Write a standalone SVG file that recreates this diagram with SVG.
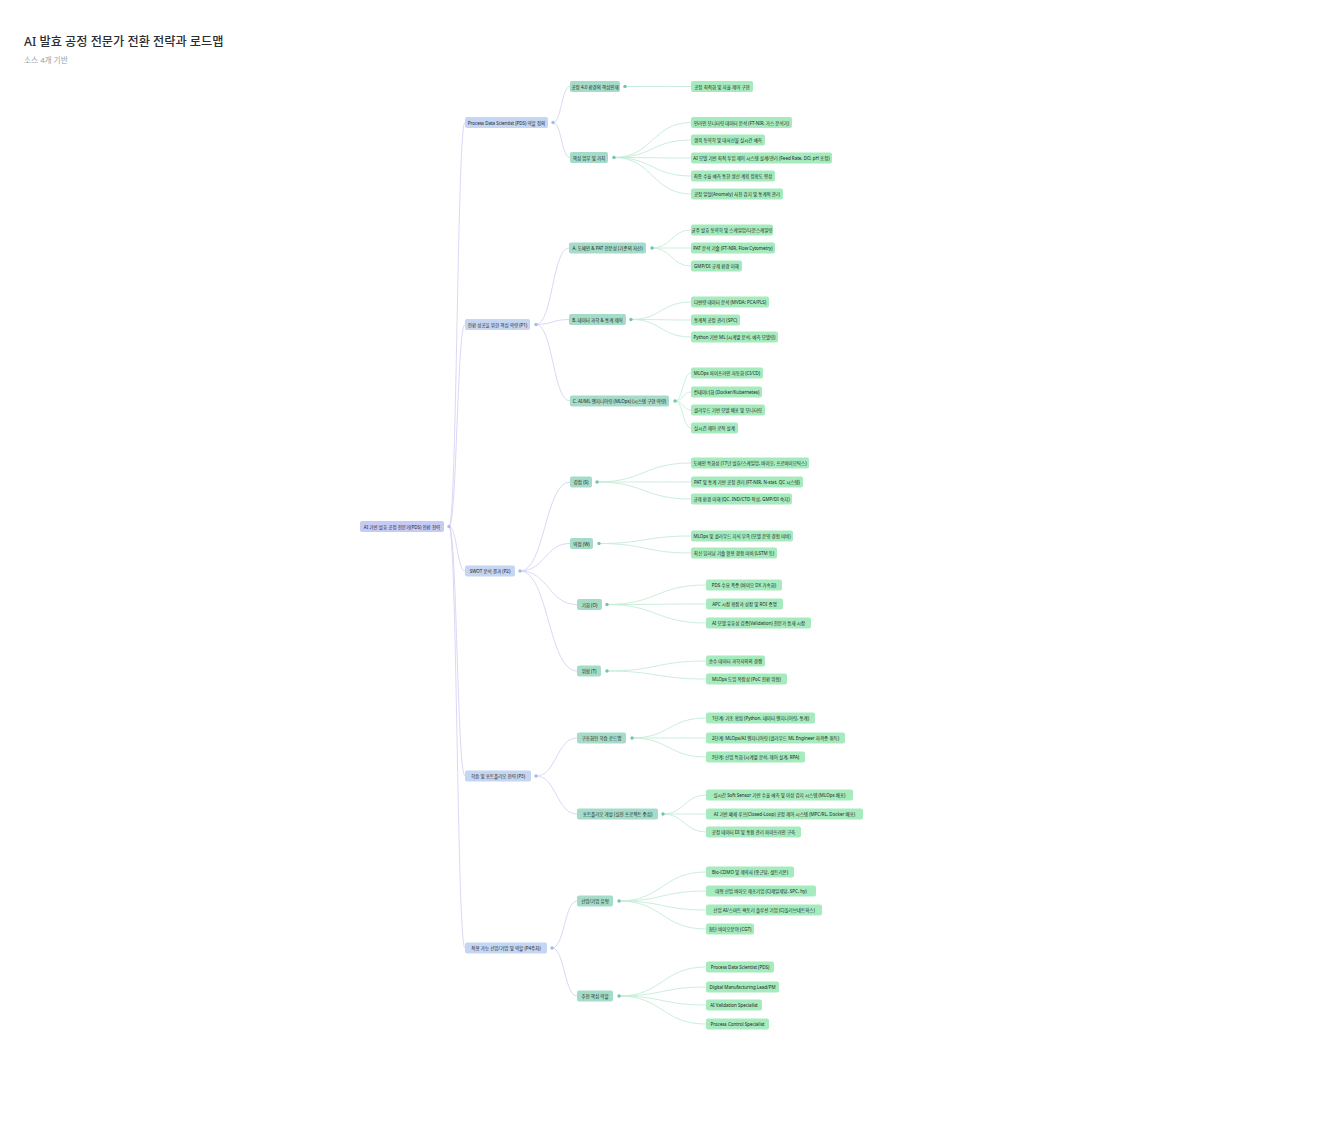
<svg xmlns="http://www.w3.org/2000/svg" width="1318" height="1125" viewBox="0 0 1318 1125">
<style>
text{font-family:"Noto Sans","Noto Sans CJK KR",sans-serif;fill:#1f2328}
.t{font-size:4.5px;text-anchor:middle;dominant-baseline:central}
.root rect{fill:#c6cbf6}
.l1 rect{fill:#c4d6f1}
.l2 rect{fill:#a5dcc7}
.lf rect{fill:#a5ebbd}
.root circle{fill:#b3b8ec}
.l1 circle{fill:#a5bde3}
.l2 circle{fill:#72c6a6}
.ep{fill:none;stroke:#d6d4f4;stroke-width:0.9}
.eg{fill:none;stroke:#c4ecd7;stroke-width:0.9}
</style>
<rect width="1318" height="1125" fill="#ffffff"/>
<text x="24" y="46" style="font-size:12.2px;font-weight:500;fill:#2a2d31">AI 발효 공정 전문가 전환 전략과 로드맵</text>
<text x="24" y="63" style="font-size:7.7px;fill:#9aa0a6">소스 4개 기반</text>

<g id="connectors">
<path class="ep" d="M449,526.5 C457,526.5 457,122.5 465,122.5"/>
<path class="ep" d="M449,526.5 C457,526.5 457,324.5 465,324.5"/>
<path class="ep" d="M449,526.5 C457,526.5 457,571 465,571"/>
<path class="ep" d="M449,526.5 C457,526.5 457,776 465,776"/>
<path class="ep" d="M449,526.5 C457,526.5 457,948 465,948"/>
<path class="ep" d="M553,122.5 C561.5,122.5 561.5,86.5 570,86.5"/>
<path class="ep" d="M553,122.5 C561.5,122.5 561.5,157.5 570,157.5"/>
<path class="ep" d="M536,324.5 C552.5,324.5 552.5,248 569,248"/>
<path class="ep" d="M536,324.5 C552.5,324.5 552.5,319.5 569,319.5"/>
<path class="ep" d="M536,324.5 C553,324.5 553,401 570,401"/>
<path class="ep" d="M520,571 C545,571 545,482 570,482"/>
<path class="ep" d="M520,571 C545,571 545,543.5 570,543.5"/>
<path class="ep" d="M520,571 C548.5,571 548.5,604.5 577,604.5"/>
<path class="ep" d="M520,571 C548.5,571 548.5,671 577,671"/>
<path class="ep" d="M536,776 C556.5,776 556.5,738 577,738"/>
<path class="ep" d="M536,776 C556.5,776 556.5,814 577,814"/>
<path class="ep" d="M552,948 C564.5,948 564.5,901 577,901"/>
<path class="ep" d="M552,948 C564.5,948 564.5,996 577,996"/>
<path class="eg" d="M625,86.5 C658,86.5 658,86.5 691,86.5"/>
<path class="eg" d="M614,157.5 C652.5,157.5 652.5,122.5 691,122.5"/>
<path class="eg" d="M614,157.5 C652.5,157.5 652.5,140 691,140"/>
<path class="eg" d="M614,157.5 C652.5,157.5 652.5,158 691,158"/>
<path class="eg" d="M614,157.5 C652.5,157.5 652.5,176 691,176"/>
<path class="eg" d="M614,157.5 C652.5,157.5 652.5,194 691,194"/>
<path class="eg" d="M652,248 C671.5,248 671.5,230 691,230"/>
<path class="eg" d="M652,248 C671.5,248 671.5,248 691,248"/>
<path class="eg" d="M652,248 C671.5,248 671.5,266 691,266"/>
<path class="eg" d="M631,319.5 C661,319.5 661,302 691,302"/>
<path class="eg" d="M631,319.5 C661,319.5 661,320 691,320"/>
<path class="eg" d="M631,319.5 C661,319.5 661,337 691,337"/>
<path class="eg" d="M675,401 C683,401 683,373 691,373"/>
<path class="eg" d="M675,401 C683,401 683,392 691,392"/>
<path class="eg" d="M675,401 C683,401 683,410 691,410"/>
<path class="eg" d="M675,401 C683,401 683,428 691,428"/>
<path class="eg" d="M597,482 C644,482 644,463 691,463"/>
<path class="eg" d="M597,482 C644,482 644,482 691,482"/>
<path class="eg" d="M597,482 C644,482 644,499 691,499"/>
<path class="eg" d="M599,543.5 C645,543.5 645,536 691,536"/>
<path class="eg" d="M599,543.5 C645,543.5 645,553 691,553"/>
<path class="eg" d="M607,604.5 C656.5,604.5 656.5,585 706,585"/>
<path class="eg" d="M607,604.5 C656.5,604.5 656.5,604 706,604"/>
<path class="eg" d="M607,604.5 C656.5,604.5 656.5,623 706,623"/>
<path class="eg" d="M607,671 C656.5,671 656.5,661 706,661"/>
<path class="eg" d="M607,671 C656.5,671 656.5,679 706,679"/>
<path class="eg" d="M632,738 C669,738 669,718 706,718"/>
<path class="eg" d="M632,738 C669,738 669,738 706,738"/>
<path class="eg" d="M632,738 C669,738 669,757 706,757"/>
<path class="eg" d="M663,814 C684.5,814 684.5,795 706,795"/>
<path class="eg" d="M663,814 C684.5,814 684.5,814 706,814"/>
<path class="eg" d="M663,814 C684.5,814 684.5,832 706,832"/>
<path class="eg" d="M619,901 C662.5,901 662.5,872 706,872"/>
<path class="eg" d="M619,901 C662.5,901 662.5,891 706,891"/>
<path class="eg" d="M619,901 C662.5,901 662.5,910 706,910"/>
<path class="eg" d="M619,901 C662.5,901 662.5,929 706,929"/>
<path class="eg" d="M619,996 C662.5,996 662.5,967 706,967"/>
<path class="eg" d="M619,996 C662.5,996 662.5,987 706,987"/>
<path class="eg" d="M619,996 C662.5,996 662.5,1005 706,1005"/>
<path class="eg" d="M619,996 C662.5,996 662.5,1024 706,1024"/>
</g>

<g id="root" class="root"><rect x="360" y="521" width="84" height="11" rx="2"/><circle cx="449" cy="526.5" r="1.7"/><text class="t" x="402" y="526.5">AI 기반 발효 공정 전문가(PDS) 전환 전략</text></g>

<g id="n-pds" class="l1"><rect x="465" y="117" width="83" height="11" rx="2"/><circle cx="553" cy="122.5" r="1.7"/><text class="t" x="506.5" y="122.5">Process Data Scientist (PDS) 역할 정의</text></g>
<g id="n-comp" class="l1"><rect x="465" y="319" width="65" height="11" rx="2"/><circle cx="536" cy="324.5" r="1.7"/><text class="t" x="497.5" y="324.5">전환 성공을 위한 핵심 역량 (P1)</text></g>
<g id="n-swot" class="l1"><rect x="465" y="565.5" width="50" height="11" rx="2"/><circle cx="520" cy="571" r="1.7"/><text class="t" x="490" y="571">SWOT 분석 결과 (P2)</text></g>
<g id="n-learn" class="l1"><rect x="465" y="770.5" width="66" height="11" rx="2"/><circle cx="536" cy="776" r="1.7"/><text class="t" x="498" y="776">학습 및 포트폴리오 전략 (P3)</text></g>
<g id="n-ind" class="l1"><rect x="465" y="942.5" width="82" height="11" rx="2"/><circle cx="552" cy="948" r="1.7"/><text class="t" x="506" y="948">적용 가능 산업/기업 및 역할 (P4주차)</text></g>

<g id="n-pds-a" class="l2"><rect x="570" y="81" width="50" height="11" rx="2"/><circle cx="625" cy="86.5" r="1.7"/><text class="t" x="595" y="86.5">공정 4.0 환경의 핵심인재</text></g>
<g id="n-pds-b" class="l2"><rect x="570" y="152" width="38" height="11" rx="2"/><circle cx="614" cy="157.5" r="1.7"/><text class="t" x="589" y="157.5">핵심 업무 및 가치</text></g>
<g id="n-comp-a" class="l2"><rect x="569" y="242.5" width="77" height="11" rx="2"/><circle cx="652" cy="248" r="1.7"/><text class="t" x="607.5" y="248">A. 도메인 &amp; PAT 전문성 (기존의 자산)</text></g>
<g id="n-comp-b" class="l2"><rect x="569" y="314" width="57" height="11" rx="2"/><circle cx="631" cy="319.5" r="1.7"/><text class="t" x="597.5" y="319.5">B. 데이터 과학 &amp; 통계 제어</text></g>
<g id="n-comp-c" class="l2"><rect x="570" y="395.5" width="99" height="11" rx="2"/><circle cx="675" cy="401" r="1.7"/><text class="t" x="619.5" y="401">C. AI/ML 엔지니어링 (MLOps) (시스템 구현 역량)</text></g>
<g id="n-s" class="l2"><rect x="570" y="476.5" width="22" height="11" rx="2"/><circle cx="597" cy="482" r="1.7"/><text class="t" x="581" y="482">강점 (S)</text></g>
<g id="n-w" class="l2"><rect x="570" y="538" width="23" height="11" rx="2"/><circle cx="599" cy="543.5" r="1.7"/><text class="t" x="581.5" y="543.5">약점 (W)</text></g>
<g id="n-o" class="l2"><rect x="577" y="599" width="25" height="11" rx="2"/><circle cx="607" cy="604.5" r="1.7"/><text class="t" x="589.5" y="604.5">기회 (O)</text></g>
<g id="n-t" class="l2"><rect x="577" y="665.5" width="24" height="11" rx="2"/><circle cx="607" cy="671" r="1.7"/><text class="t" x="589" y="671">위협 (T)</text></g>
<g id="n-road" class="l2"><rect x="577" y="732.5" width="49" height="11" rx="2"/><circle cx="632" cy="738" r="1.7"/><text class="t" x="601.5" y="738">구조화된 학습 로드맵</text></g>
<g id="n-port" class="l2"><rect x="577" y="808.5" width="81" height="11" rx="2"/><circle cx="663" cy="814" r="1.7"/><text class="t" x="617.5" y="814">포트폴리오 개발 (실전 프로젝트 중심)</text></g>
<g id="n-type" class="l2"><rect x="577" y="895.5" width="36" height="11" rx="2"/><circle cx="619" cy="901" r="1.7"/><text class="t" x="595" y="901">산업/기업 유형</text></g>
<g id="n-role" class="l2"><rect x="577" y="990.5" width="36" height="11" rx="2"/><circle cx="619" cy="996" r="1.7"/><text class="t" x="595" y="996">추천 핵심 역할</text></g>

<g id="lf1" class="lf"><rect x="691" y="81" width="62" height="11" rx="2"/><text class="t" x="722" y="86.5">공정 최적화 및 자율 제어 구현</text></g>
<g id="lf2" class="lf"><rect x="691" y="117" width="101" height="11" rx="2"/><text class="t" x="741.5" y="122.5">인라인 모니터링 데이터 분석 (FT-NIR, 가스 분석기)</text></g>
<g id="lf3" class="lf"><rect x="691" y="134.5" width="74" height="11" rx="2"/><text class="t" x="728" y="140">생육 동역학 및 대사산물 실시간 예측</text></g>
<g id="lf4" class="lf"><rect x="691" y="152.5" width="141" height="11" rx="2"/><text class="t" x="761.5" y="158">AI 모델 기반 최적 투입 제어 시스템 설계/관리 (Feed Rate, DO, pH 조정)</text></g>
<g id="lf5" class="lf"><rect x="691" y="170.5" width="84" height="11" rx="2"/><text class="t" x="733" y="176">최종 수율 예측 통한 생산 계획 정확도 향상</text></g>
<g id="lf6" class="lf"><rect x="691" y="188.5" width="92" height="11" rx="2"/><text class="t" x="737" y="194">공정 일탈(Anomaly) 사전 감지 및 통계적 관리</text></g>
<g id="lf7" class="lf"><rect x="691" y="224.5" width="82" height="11" rx="2"/><text class="t" x="732" y="230">균주 발효 동역학 및 스케일업/다운스케일링</text></g>
<g id="lf8" class="lf"><rect x="691" y="242.5" width="84" height="11" rx="2"/><text class="t" x="733" y="248">PAT 분석 기술 (FT-NIR, Flow Cytometry)</text></g>
<g id="lf9" class="lf"><rect x="691" y="260.5" width="51" height="11" rx="2"/><text class="t" x="716.5" y="266">GMP/DI 규제 환경 이해</text></g>
<g id="lf10" class="lf"><rect x="691" y="296.5" width="78" height="11" rx="2"/><text class="t" x="730" y="302">다변량 데이터 분석 (MVDA: PCA/PLS)</text></g>
<g id="lf11" class="lf"><rect x="691" y="314.5" width="49" height="11" rx="2"/><text class="t" x="715.5" y="320">통계적 공정 관리 (SPC)</text></g>
<g id="lf12" class="lf"><rect x="691" y="331.5" width="87" height="11" rx="2"/><text class="t" x="734.5" y="337">Python 기반 ML (시계열 분석, 예측 모델링)</text></g>
<g id="lf13" class="lf"><rect x="691" y="367.5" width="72" height="11" rx="2"/><text class="t" x="727" y="373">MLOps 파이프라인 자동화 (CI/CD)</text></g>
<g id="lf14" class="lf"><rect x="691" y="386.5" width="71" height="11" rx="2"/><text class="t" x="726.5" y="392">컨테이너화 (Docker/Kubernetes)</text></g>
<g id="lf15" class="lf"><rect x="691" y="404.5" width="74" height="11" rx="2"/><text class="t" x="728" y="410">클라우드 기반 모델 배포 및 모니터링</text></g>
<g id="lf16" class="lf"><rect x="691" y="422.5" width="47" height="11" rx="2"/><text class="t" x="714.5" y="428">실시간 제어 로직 설계</text></g>
<g id="lf17" class="lf"><rect x="691" y="457.5" width="118" height="11" rx="2"/><text class="t" x="750" y="463">도메인 특화성 (17년 발효/스케일업, 바이오, 프로바이오틱스)</text></g>
<g id="lf18" class="lf"><rect x="691" y="476.5" width="112" height="11" rx="2"/><text class="t" x="747" y="482">PAT 및 통계 기반 공정 관리 (FT-NIR, N-stat, QC 시스템)</text></g>
<g id="lf19" class="lf"><rect x="691" y="493.5" width="101" height="11" rx="2"/><text class="t" x="741.5" y="499">규제 환경 이해 (QC, IND/CTD 작성, GMP/DI 숙지)</text></g>
<g id="lf20" class="lf"><rect x="691" y="530.5" width="102" height="11" rx="2"/><text class="t" x="742" y="536">MLOps 및 클라우드 지식 부족 (모델 운영 경험 미비)</text></g>
<g id="lf21" class="lf"><rect x="691" y="547.5" width="86" height="11" rx="2"/><text class="t" x="734" y="553">최신 딥러닝 기술 활용 경험 미비 (LSTM 등)</text></g>
<g id="lf22" class="lf"><rect x="706" y="579.5" width="76" height="11" rx="2"/><text class="t" x="744" y="585">PDS 수요 폭증 (바이오 DX 가속화)</text></g>
<g id="lf23" class="lf"><rect x="706" y="598.5" width="77" height="11" rx="2"/><text class="t" x="744.5" y="604">APC 시장 확장과 성장 및 ROI 증명</text></g>
<g id="lf24" class="lf"><rect x="706" y="617.5" width="105" height="11" rx="2"/><text class="t" x="758.5" y="623">AI 모델 유효성 검증(Validation) 전문가 틈새 시장</text></g>
<g id="lf25" class="lf"><rect x="706" y="655.5" width="59" height="11" rx="2"/><text class="t" x="735.5" y="661">순수 데이터 과학자와의 경쟁</text></g>
<g id="lf26" class="lf"><rect x="706" y="673.5" width="81" height="11" rx="2"/><text class="t" x="746.5" y="679">MLOps 도입 복잡성 (PoC 전환 위험)</text></g>
<g id="lf27" class="lf"><rect x="706" y="712.5" width="109" height="11" rx="2"/><text class="t" x="760.5" y="718">1단계: 기초 확립 (Python, 데이터 엔지니어링, 통계)</text></g>
<g id="lf28" class="lf"><rect x="706" y="732.5" width="139" height="11" rx="2"/><text class="t" x="775.5" y="738">2단계: MLOps/AI 엔지니어링 (클라우드 ML Engineer 자격증 취득)</text></g>
<g id="lf29" class="lf"><rect x="706" y="751.5" width="99" height="11" rx="2"/><text class="t" x="755.5" y="757">3단계: 산업 특화 (시계열 분석, 제어 설계, RPA)</text></g>
<g id="lf30" class="lf"><rect x="706" y="789.5" width="147" height="11" rx="2"/><text class="t" x="779.5" y="795">실시간 Soft Sensor 기반 수율 예측 및 이상 감지 시스템 (MLOps 배포)</text></g>
<g id="lf31" class="lf"><rect x="706" y="808.5" width="157" height="11" rx="2"/><text class="t" x="784.5" y="814">AI 기반 폐쇄 루프(Closed-Loop) 공정 제어 시스템 (MPC/RL, Docker 배포)</text></g>
<g id="lf32" class="lf"><rect x="706" y="826.5" width="95" height="11" rx="2"/><text class="t" x="753.5" y="832">공정 데이터 DI 및 통합 관리 파이프라인 구축</text></g>
<g id="lf33" class="lf"><rect x="706" y="866.5" width="88" height="11" rx="2"/><text class="t" x="750" y="872">Bio-CDMO 및 제약사 (종근당, 셀트리온)</text></g>
<g id="lf34" class="lf"><rect x="706" y="885.5" width="110" height="11" rx="2"/><text class="t" x="761" y="891">대형 산업 바이오 제조기업 (CJ제일제당, SPC, hy)</text></g>
<g id="lf35" class="lf"><rect x="706" y="904.5" width="116" height="11" rx="2"/><text class="t" x="764" y="910">산업 AI/스마트 팩토리 솔루션 기업 (CJ올리브네트웍스)</text></g>
<g id="lf36" class="lf"><rect x="706" y="923.5" width="48" height="11" rx="2"/><text class="t" x="730" y="929">첨단 바이오분야 (CGT)</text></g>
<g id="lf37" class="lf"><rect x="706" y="961.5" width="68" height="11" rx="2"/><text class="t" x="740" y="967">Process Data Scientist (PDS)</text></g>
<g id="lf38" class="lf"><rect x="706" y="981.5" width="73" height="11" rx="2"/><text class="t" x="742.5" y="987">Digital Manufacturing Lead/PM</text></g>
<g id="lf39" class="lf"><rect x="706" y="999.5" width="56" height="11" rx="2"/><text class="t" x="734" y="1005">AI Validation Specialist</text></g>
<g id="lf40" class="lf"><rect x="706" y="1018.5" width="63" height="11" rx="2"/><text class="t" x="737.5" y="1024">Process Control Specialist</text></g>
</svg>
